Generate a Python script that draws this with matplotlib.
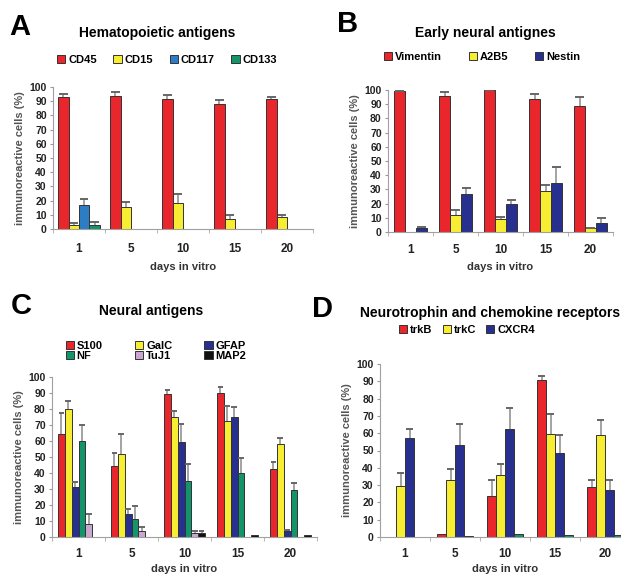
import matplotlib
matplotlib.use("Agg")
import matplotlib.pyplot as plt
from matplotlib.patches import Patch
import numpy as np

plt.rcParams["font.family"] = ["Liberation Sans", "DejaVu Sans"]
plt.rcParams["font.weight"] = "bold"
plt.rcParams["axes.labelweight"] = "bold"

days = ["1", "5", "10", "15", "20"]

# panel A - hematopoietic antigens
cd45 = [93, 93.5, 91.3, 88.2, 91.7]
cd45_err = [2, 3, 3.3, 2.8, 1]
cd15 = [3, 15.7, 18.4, 7.3, 8.5]
cd15_err = [1, 3, 6, 2.4, 1.2]
cd117 = [17, 0, 0, 0, 0]
cd117_err = [4, 0, 0, 0, 0]
cd133 = [3, 0, 0, 0, 0]
cd133_err = [1.7, 0, 0, 0, 0]

# panel B - early neural antigens
vimentin = [99.3, 96, 100, 93.7, 88.8]
vimentin_err = [0.3, 2.4, 0.2, 3.5, 6.5]
a2b5 = [0, 11.7, 9.4, 28.6, 2.5]
a2b5_err = [0, 4, 0.9, 4.2, 0.2]
nestin = [2.8, 26.7, 19.7, 34.4, 6.3]
nestin_err = [0.5, 4, 3, 11.6, 3.5]

# panel C - neural antigens
s100 = [64.4, 44.6, 89.5, 90, 42.5]
s100_err = [13, 8.1, 2.1, 4, 4.2]
galc = [79.9, 51.9, 74.7, 72.2, 58]
galc_err = [5.1, 12.3, 3.8, 9.4, 3.7]
gfap = [31, 14.6, 59.6, 74.9, 3.8]
gfap_err = [3.5, 3.2, 11.1, 6.1, 0.3]
nf = [60.3, 11.3, 35.1, 39.7, 29.3]
nf_err = [10, 8.2, 10.5, 9.5, 4.2]
tuj1 = [8.4, 3.8, 2.5, 0, 0]
tuj1_err = [6.2, 2.5, 1.3, 0, 0]
map2 = [0, 0, 2.5, 1.5, 1.5]
map2_err = [0, 0, 1.3, 0, 0]

# panel D - neurotrophin and chemokine receptors
trkb = [0, 1.5, 23.8, 90.8, 28.8]
trkb_err = [0, 0, 8.9, 2.2, 3.9]
trkc = [29.2, 32.7, 36, 59.4, 58.7]
trkc_err = [7.7, 6.7, 6.3, 11.8, 9]
cxcr4 = [57.5, 52.9, 62.3, 48.5, 26.9]
cxcr4_err = [4.8, 12.5, 12.1, 10.5, 6.2]
other_d = [0, 0.5, 2, 1.3, 1]

RED = "#e8262b"
YELLOW = "#f7ee33"
BLUE = "#2b7ec4"
GREEN = "#14946a"
NAVY = "#27308f"
LAVENDER = "#c9a7d1"
BLACK = "#111111"
GRAY = "#8a8a8a"

W, H = 621, 578
fig = plt.figure(figsize=(W / 100, H / 100), dpi=100)


def px_axes(left, top, width, height):
    return fig.add_axes([left / W, 1 - (top + height) / H, width / W, height / H])


def draw_panel(ax, series, group_frac, tick_pad, label_pad):
    n = len(series)
    w = group_frac / n
    x = np.arange(len(days))
    for k, (vals, errs, color) in enumerate(series):
        xs = x + (k - (n - 1) / 2) * w
        ax.bar(xs, vals, width=w, color=color, edgecolor="#333333",
               linewidth=0.7, zorder=2)
        if errs is None:
            continue
        vals = np.array(vals, dtype=float)
        errs = np.array(errs, dtype=float)
        m = errs > 0
        ax.vlines(xs[m], vals[m], vals[m] + errs[m], color=GRAY, lw=1.1, zorder=3)
        ax.hlines(vals[m] + errs[m], xs[m] - w * 0.4, xs[m] + w * 0.4,
                  color="#666666", lw=1.4, zorder=3)
    ax.set_xlim(-0.5, len(days) - 0.5)
    ax.set_ylim(0, 100)
    ax.set_yticks(range(0, 101, 10))
    ax.set_xticks(x)
    ax.set_xticklabels(days)
    ax.set_xticks(np.arange(-0.5, len(days)), minor=True)
    ax.tick_params(axis="x", which="major", length=0, pad=tick_pad, labelsize=8.5,
                   labelcolor="#222222")
    ax.tick_params(axis="x", which="minor", length=3, color="#aaaaaa")
    ax.tick_params(axis="y", length=2.5, color="#999999", pad=2, labelsize=7.5,
                   labelcolor="#222222")
    for s in ("top", "right"):
        ax.spines[s].set_visible(False)
    for s in ("left", "bottom"):
        ax.spines[s].set_color("#a0a0a0")
        ax.spines[s].set_linewidth(0.8)
    ax.set_ylabel("immunoreactive cells (%)", fontsize=8, color="#555555",
                  labelpad=3)
    ax.set_xlabel("days in vitro", fontsize=8, color="#333333", labelpad=label_pad)


def legend(handles, cx, cy, ncol, colsp):
    fig.legend(handles=handles, loc="center", bbox_to_anchor=(cx / W, 1 - cy / H),
               ncol=ncol, frameon=False, fontsize=8, handlelength=0.75,
               handleheight=0.75, handletextpad=0.25, columnspacing=colsp,
               borderpad=0, labelspacing=0.05)


def patch(color, label):
    return Patch(facecolor=color, edgecolor="#333333", linewidth=0.7, label=label)


# A
axA = px_axes(53, 87, 260, 142)
draw_panel(axA, [(cd45, cd45_err, RED), (cd15, cd15_err, YELLOW),
                 (cd117, cd117_err, BLUE), (cd133, cd133_err, GREEN)], 0.8, 10, 5)
fig.text(9 / W, 1 - 27 / H, "A", fontsize=21, ha="left", va="center")
fig.text(157 / W, 1 - 33 / H, "Hematopoietic antigens", fontsize=10,
         ha="center", va="center")
legend([patch(RED, "CD45"), patch(YELLOW, "CD15"), patch(BLUE, "CD117"),
        patch(GREEN, "CD133")], 167, 60, 4, 1.5)

# B
axB = px_axes(388, 90, 225, 142)
draw_panel(axB, [(vimentin, vimentin_err, RED), (a2b5, a2b5_err, YELLOW),
                 (nestin, nestin_err, NAVY)], 0.73, 9, 4)
fig.text(337 / W, 1 - 24 / H, "B", fontsize=21, ha="left", va="center")
fig.text(485 / W, 1 - 33 / H, "Early neural antignes", fontsize=10,
         ha="center", va="center")
legend([patch(RED, "Vimentin"), patch(YELLOW, "A2B5"), patch(NAVY, "Nestin")],
       482, 57, 3, 2.4)

# C
axC = px_axes(52, 377, 265, 160)
draw_panel(axC, [(s100, s100_err, RED), (galc, galc_err, YELLOW),
                 (gfap, gfap_err, NAVY), (nf, nf_err, GREEN),
                 (tuj1, tuj1_err, LAVENDER), (map2, map2_err, BLACK)], 0.78, 8, 3)
fig.text(11 / W, 1 - 306 / H, "C", fontsize=21, ha="left", va="center")
fig.text(151 / W, 1 - 311 / H, "Neural antigens", fontsize=10,
         ha="center", va="center")
legend([patch(RED, "S100"), patch(GREEN, "NF"), patch(YELLOW, "GalC"),
        patch(LAVENDER, "TuJ1"), patch(NAVY, "GFAP"), patch(BLACK, "MAP2")],
       156, 351, 3, 2.9)

# D
axD = px_axes(380, 364, 250, 173)
draw_panel(axD, [(trkb, trkb_err, RED), (trkc, trkc_err, YELLOW),
                 (cxcr4, cxcr4_err, NAVY), (other_d, None, GREEN)], 0.72, 8, 3)
fig.text(312 / W, 1 - 309 / H, "D", fontsize=21, ha="left", va="center")
fig.text(490 / W, 1 - 313 / H, "Neurotrophin and chemokine receptors",
         fontsize=10, ha="center", va="center")
legend([patch(RED, "trkB"), patch(YELLOW, "trkC"), patch(NAVY, "CXCR4")],
       467, 330, 3, 0.9)

fig.savefig("out.png", dpi=100)
